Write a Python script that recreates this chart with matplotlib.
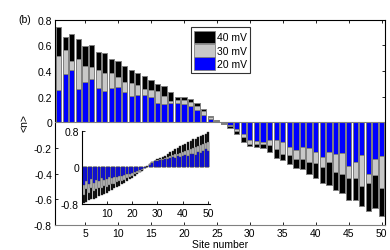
import matplotlib
matplotlib.use("Agg")
import matplotlib.pyplot as plt
from matplotlib.patches import Patch
import numpy as np

plt.rcParams['font.family'] = ['Liberation Sans', 'DejaVu Sans']

sites = list(range(1, 51))

n_40mV = [0.745, 0.663, 0.692, 0.650, 0.598, 0.606, 0.551, 0.540, 0.496, 0.476,
          0.437, 0.408, 0.385, 0.359, 0.330, 0.300, 0.285, 0.235, 0.198, 0.195,
          0.180, 0.152, 0.105, 0.052, 0.015, -0.015, -0.045, -0.090, -0.155, -0.186,
          -0.194, -0.199, -0.233, -0.277, -0.297, -0.323, -0.354, -0.367, -0.406, -0.435,
          -0.471, -0.492, -0.530, -0.549, -0.606, -0.606, -0.652, -0.691, -0.665, -0.730]
n_30mV = [0.515, 0.560, 0.476, 0.496, 0.437, 0.432, 0.406, 0.385, 0.385, 0.352,
          0.318, 0.310, 0.290, 0.262, 0.255, 0.248, 0.208, 0.167, 0.172, 0.177,
          0.160, 0.131, 0.086, 0.042, 0.010, -0.010, -0.030, -0.065, -0.118, -0.165,
          -0.168, -0.168, -0.173, -0.204, -0.243, -0.256, -0.282, -0.282, -0.308, -0.318,
          -0.347, -0.308, -0.385, -0.401, -0.432, -0.437, -0.497, -0.471, -0.414, -0.515]
n_20mV = [0.255, 0.380, 0.405, 0.260, 0.313, 0.334, 0.271, 0.244, 0.268, 0.275,
          0.234, 0.206, 0.210, 0.212, 0.198, 0.150, 0.145, 0.148, 0.150, 0.144,
          0.131, 0.099, 0.060, 0.029, 0.005, -0.006, -0.020, -0.050, -0.093, -0.134,
          -0.147, -0.152, -0.140, -0.134, -0.155, -0.194, -0.217, -0.194, -0.199, -0.228,
          -0.272, -0.230, -0.243, -0.238, -0.342, -0.308, -0.256, -0.401, -0.284, -0.259]

inset_40mV = [-0.78, -0.76, -0.72, -0.70, -0.68, -0.66, -0.63, -0.60, -0.58, -0.55,
              -0.52, -0.49, -0.46, -0.43, -0.40, -0.37, -0.33, -0.30, -0.26, -0.23,
              -0.19, -0.15, -0.11, -0.07, -0.02, 0.03, 0.08, 0.12, 0.15, 0.19,
              0.21, 0.22, 0.25, 0.29, 0.33, 0.36, 0.40, 0.43, 0.46, 0.49,
              0.52, 0.55, 0.58, 0.61, 0.63, 0.66, 0.69, 0.71, 0.74, 0.78]
inset_30mV = [-0.60, -0.48, -0.56, -0.44, -0.52, -0.47, -0.45, -0.46, -0.40, -0.42,
              -0.38, -0.36, -0.37, -0.32, -0.30, -0.29, -0.27, -0.24, -0.21, -0.18,
              -0.15, -0.12, -0.09, -0.05, -0.01, 0.02, 0.07, 0.11, 0.14, 0.17,
              0.18, 0.19, 0.21, 0.22, 0.25, 0.27, 0.29, 0.30, 0.31, 0.33,
              0.36, 0.38, 0.40, 0.43, 0.45, 0.47, 0.50, 0.52, 0.53, 0.55]
inset_20mV = [-0.38, -0.30, -0.36, -0.25, -0.33, -0.28, -0.30, -0.24, -0.27, -0.26,
              -0.22, -0.24, -0.20, -0.22, -0.18, -0.19, -0.16, -0.15, -0.14, -0.12,
              -0.10, -0.08, -0.06, -0.04, -0.01, 0.02, 0.06, 0.10, 0.13, 0.15,
              0.16, 0.17, 0.19, 0.18, 0.20, 0.22, 0.21, 0.24, 0.23, 0.25,
              0.27, 0.26, 0.29, 0.30, 0.28, 0.33, 0.31, 0.36, 0.40, 0.35]

labels = ['40 mV', '30 mV', '20 mV']
colors = ['#000000', '#c8c8c8', '#0000ff']
edge = '#808080'
fs = 7.5

fig = plt.figure(figsize=(3.9, 2.51), dpi=100)
ax = fig.add_axes([0.142, 0.0996, 0.845, 0.818])

for vals, c in zip([n_40mV, n_30mV, n_20mV], colors):
    ax.bar(sites, vals, width=0.8, color=c, edgecolor=edge, linewidth=0.7, zorder=2)
ax.axhline(0, color=edge, linewidth=0.8, zorder=3)

ax.set_xlim(0.5, 50.5)
ax.set_ylim(-0.8, 0.8)
ax.set_xticks(range(5, 51, 5))
yt = [-0.8, -0.6, -0.4, -0.2, 0, 0.2, 0.4, 0.6, 0.8]
ax.set_yticks(yt)
ax.set_yticklabels(['%g' % v if v != 0 else '0' for v in yt])
ax.tick_params(direction='in', length=2.2, width=0.6, top=True, right=True,
               labelsize=fs, pad=2.5)
for s in ax.spines.values():
    s.set_linewidth(0.8)
ax.spines['bottom'].set_color(edge)
ax.set_xlabel('Site number', fontsize=fs, labelpad=0.5)
ax.set_ylabel('<n>', fontsize=fs, labelpad=3)
fig.text(0.046, 0.92, '(b)', fontsize=fs, va='center', ha='left')

handles = [Patch(facecolor=c, edgecolor=edge, linewidth=0.6) for c in colors]
leg = ax.legend(handles, labels, loc='upper left', bbox_to_anchor=(0.412, 0.962),
                fontsize=fs, frameon=True, fancybox=False, edgecolor='black',
                handlelength=2.0, handleheight=1.5, handletextpad=0.2,
                borderpad=0.3, labelspacing=0.05, borderaxespad=0)
leg.get_frame().set_linewidth(0.8)

# inset
ax2 = fig.add_axes([0.2115, 0.183, 0.326, 0.292])
for vals, c in zip([inset_40mV, inset_30mV, inset_20mV], colors):
    ax2.bar(sites, vals, width=0.8, color=c, edgecolor='#404040', linewidth=0.3, zorder=2)
ax2.set_xlim(0.5, 50.5)
ax2.set_ylim(-0.8, 0.8)
ax2.set_xticks([10, 20, 30, 40, 50])
ax2.set_yticks([-0.8, 0, 0.8])
ax2.set_yticklabels(['%g' % v if v != 0 else '0' for v in [-0.8, 0, 0.8]])
ax2.spines['top'].set_visible(False)
ax2.spines['right'].set_visible(False)
for s in ['left', 'bottom']:
    ax2.spines[s].set_linewidth(0.8)
ax2.tick_params(direction='in', length=2, width=0.6, labelsize=fs, pad=2.5)
ax2.set_facecolor('white')

fig.savefig('out.png', dpi=100)
